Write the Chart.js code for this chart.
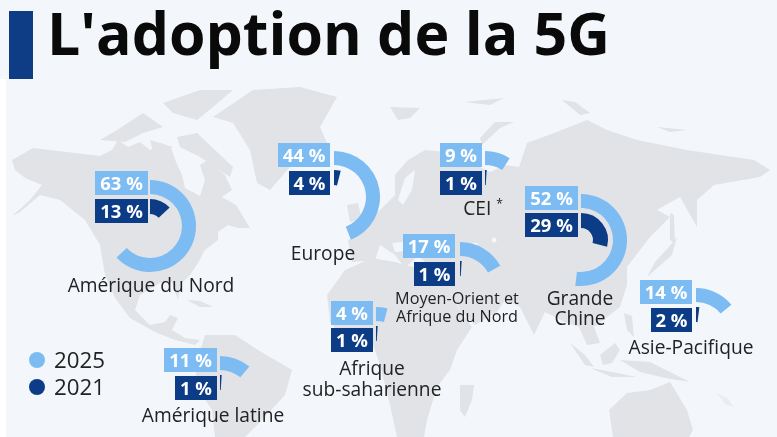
<!DOCTYPE html>
<html lang="fr"><head><meta charset="utf-8">
<script src="https://cdn.jsdelivr.net/npm/chart.js@4/dist/chart.umd.min.js"></script>
<style>
html,body{margin:0;padding:0;background:#fff}
#stage{position:relative;width:777px;height:437px;overflow:hidden;background:#f3f7fb;font-family:"Open Sans",sans-serif;color:#1c1c1c}
#strip{position:absolute;left:0;top:79px;width:6px;height:358px;background:#fff}
#bar{position:absolute;left:9px;top:11px;width:24px;height:68px;background:#0f3d85}
#title{position:absolute;left:47px;top:1px;font-size:59px;line-height:62px;font-weight:700;color:#0a0a0a;white-space:nowrap}
svg{position:absolute;left:0;top:0}
canvas{position:absolute}
.box{position:absolute;box-sizing:border-box;padding-bottom:2px;color:#fff;font-weight:700;font-size:18.5px;text-align:center;display:flex;align-items:center;justify-content:center;white-space:nowrap}
.lab{position:absolute;transform:translate(-50%,-50%);white-space:nowrap;text-align:center;font-size:19.2px;line-height:22px;color:#222}
.leg{position:absolute;font-size:22.3px;line-height:26px;color:#222}
.dot{position:absolute;width:16px;height:16px;border-radius:50%}
sup{font-size:12px;line-height:0}
</style></head><body>
<div id="stage">
<svg width="777" height="437" viewBox="0 0 777 437"><defs><filter id="b"><feGaussianBlur stdDeviation="0.6"/></filter></defs>
<g fill="#e1e3e6" filter="url(#b)">
<polygon points="12,160 33,148 50,150 75,153 100,156 112,150 118,140 128,147 140,142 150,150 162,143 172,150 176,162 182,175 185,188 200,196 205,180 200,165 208,160 225,175 232,190 222,197 236,205 250,228 238,228 228,225 218,232 218,240 205,250 198,263 190,275 180,285 178,300 172,282 160,283 140,295 135,310 150,325 165,322 170,315 178,318 172,330 185,338 200,340 195,345 175,340 155,332 130,318 115,298 105,275 100,245 85,220 60,200 40,195 20,212 12,216 30,200 42,185 25,178 15,170"/>
<polygon points="163,103 200,90 233,90 213,107 197,120 173,113"/>
<polygon points="177,137 197,133 233,167 230,177 200,157 180,147"/>
<polygon points="100,140 117,130 143,113 163,127 143,133 125,142"/>
<polygon points="150,140 173,147 163,157 153,152"/>
<polygon points="187,300 200,301 213,307 200,307"/>
<polygon points="213,117 253,90 300,87 337,97 320,127 327,143 290,167 270,190 257,183 250,150 233,123"/>
<polygon points="205,335 235,335 258,350 292,370 285,395 262,420 245,437 215,437 212,410 195,385 197,360"/>
<polygon points="347,205 358,203 362,220 350,222"/>
<polygon points="345,270 372,258 395,262 430,272 445,278 458,308 472,327 457,350 450,370 437,387 427,420 424,437 397,437 390,405 380,365 372,342 345,340 330,322 327,295"/>
<polygon points="395,195 395,175 408,160 425,150 445,152 465,152 475,165 490,172 505,165 519,167 527,143 554,133 587,120 607,130 637,140 687,150 720,155 754,160 770,170 760,177 714,185 697,200 697,227 680,197 657,210 670,217 650,237 627,267 627,285 620,307 594,327 600,343 587,345 579,327 565,322 545,312 534,335 520,307 505,300 497,312 475,325 460,310 448,285 445,275 450,262 425,262 418,256 405,268 395,255 380,245 375,260 352,262 348,240 360,235 365,225 375,215 385,205"/>
<polygon points="460,385 474,385 472,400 465,417 460,410"/>
<polygon points="390,107 420,108 410,118 398,120"/>
<polygon points="464,102 504,98 490,105"/>
<polygon points="514,122 500,128 482,145 480,138 495,122"/>
<polygon points="562,100 575,102 590,113 580,115"/>
<polygon points="657,127 687,130 670,132"/>
<polygon points="670,213 674,215 675,243 670,240"/>
<polygon points="677,237 672,255 655,270 647,277 655,262 668,248"/>
<polygon points="624,313 632,316 634,337 627,330"/>
<polygon points="600,355 615,343 620,350 612,363 603,365"/>
<polygon points="620,360 650,362 690,382 665,378 640,372"/>
<polygon points="590,368 612,372 637,377 612,377"/>
<polygon points="570,343 585,355 594,367 585,365"/>
<polygon points="609,410 627,393 650,390 670,382 687,410 693,430 689,437 613,437"/>
<polygon points="717,393 727,398 734,407 725,404" opacity=".5"/>
</g>
<g fill="#f3f7fb" filter="url(#b)">
<polygon points="405,178 415,170 412,190 403,205 398,200"/>
<polygon points="392,243 420,240 416,250 395,252"/>
<polygon points="470,243 477,243 478,255 472,253"/>
<circle cx="494" cy="240" r="2.5"/>
</g></svg>
<div id="strip"></div><div id="bar"></div>
<div id="title">L'adoption de la 5G</div>
</div>
<script>
const regions=["Amérique du Nord","Europe","CEI","Grande Chine","Moyen-Orient et Afrique du Nord","Asie-Pacifique","Afrique sub-saharienne","Amérique latine"];
const seriesNames=["2025","2021"];
const values2025=[63,44,9,52,17,14,4,11];
const values2021=[13,4,1,29,1,2,1,1];
const centers=[[150,226],[334,197],[485,197],[581,240],[460,288],[696,334],[376,353],[220,402]];
const boxes2025=[[95,171,53],[278,143,52],[440,143,42],[525,186,53],[403,234,52],[640,280,52],[331,301,42],[164,348,53]];
const boxes2021=[[95,199,53],[289,171,41],[440,171,42],[525,213,53],[414,262,41],[651,308,41],[331,328,42],[175,376,42]];
const labelLines=[
 [151,285,"Amérique du Nord",0],[323,253,"Europe",0],[483,208,"CEI <sup>*</sup>",0],
 [580,298,"Grande",0],[580,318,"Chine",0],
 [457,298,"Moyen-Orient et",1],[457,316,"Afrique du Nord",1],
 [691,347,"Asie-Pacifique",0],[372,368,"Afrique",0],[372,389,"sub-saharienne",0],[213,415,"Amérique latine",0]];
const LIGHT="#7cbcf2",DARK="#0b3c85",NONE="rgba(0,0,0,0)";
const stage=document.getElementById("stage");
function add(cls,css,html){const d=document.createElement("div");d.className=cls;d.style.cssText=css;d.innerHTML=html;stage.appendChild(d);}
regions.forEach((r,i)=>{
 const [cx,cy]=centers[i];
 const c=document.createElement("canvas");
 c.style.left=(cx-46)+"px";c.style.top=(cy-46)+"px";c.style.width="92px";c.style.height="92px";c.width=92;c.height=92;
 stage.appendChild(c);
 new Chart(c,{type:"doughnut",data:{labels:[r,""],datasets:[
   {label:seriesNames[0],data:[values2025[i],100-values2025[i]],backgroundColor:[LIGHT,NONE],borderWidth:0,weight:14},
   {label:"",data:[100],backgroundColor:[NONE],borderWidth:0,weight:5},
   {label:seriesNames[1],data:[values2021[i],100-values2021[i]],backgroundColor:[DARK,NONE],borderWidth:0,weight:15}]},
  options:{responsive:false,animation:false,cutout:"26%",radius:"100%",layout:{padding:0},plugins:{legend:{display:false},tooltip:{enabled:false}}}});
 const a=boxes2025[i],b=boxes2021[i];
 add("box",`left:${a[0]}px;top:${a[1]}px;width:${a[2]}px;height:24px;background:${LIGHT}`,values2025[i]+" %");
 add("box",`left:${b[0]}px;top:${b[1]}px;width:${b[2]}px;height:24px;background:${DARK}`,values2021[i]+" %");
});
labelLines.forEach(l=>add("lab",`left:${l[0]}px;top:${l[1]}px;`+(l[3]?"font-size:16.2px;line-height:18px":""),l[2]));
add("dot",`left:29px;top:352px;background:${LIGHT}`,"");
add("dot",`left:29px;top:379px;background:${DARK}`,"");
add("leg","left:54px;top:347px",seriesNames[0]);
add("leg","left:54px;top:374px",seriesNames[1]);
</script>
</body></html>
